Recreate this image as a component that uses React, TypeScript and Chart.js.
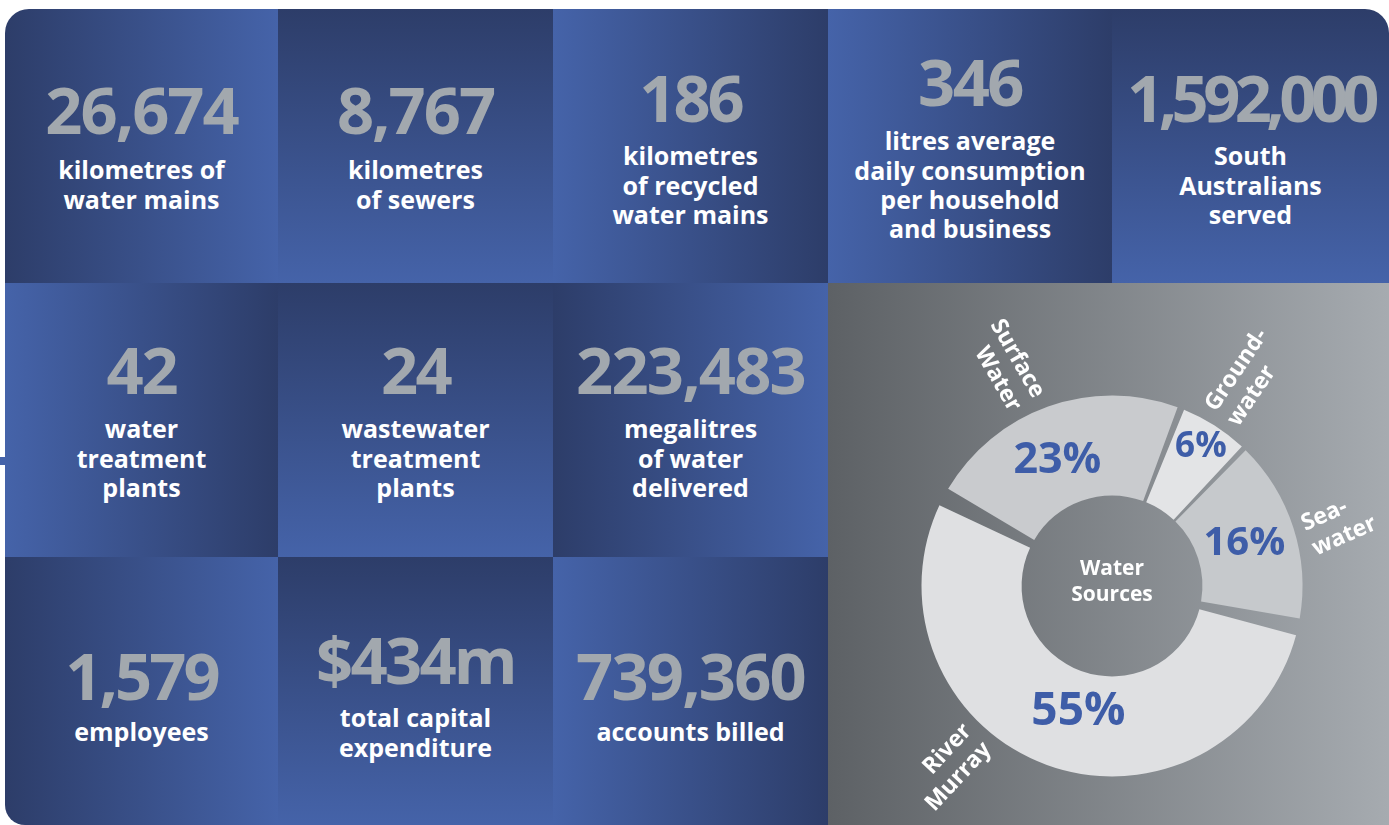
import React, { useEffect, useRef } from "react";
import { Chart, registerables } from "chart.js";

Chart.register(...registerables);

// ---------- data ----------
const statValues = ["26,674", "8,767", "186", "346", "1,592,000", "42", "24", "223,483", "1,579", "$434m", "739,360"];
const statLabels = [
  ["kilometres of", "water mains"],
  ["kilometres", "of sewers"],
  ["kilometres", "of recycled", "water mains"],
  ["litres average", "daily consumption", "per household", "and business"],
  ["South", "Australians", "served"],
  ["water", "treatment", "plants"],
  ["wastewater", "treatment", "plants"],
  ["megalitres", "of water", "delivered"],
  ["employees"],
  ["total capital", "expenditure"],
  ["accounts billed"],
];
const sourceNames = [["Surface", "Water"], ["Ground-", "water"], ["Sea-", "water"], ["River", "Murray"]];
const sourceShares = [23, 6, 16, 55];
const centerTitle = ["Water", "Sources"];

// ---------- layout / style ----------
const COLS = [5, 278, 553, 828, 1112, 1389];
const ROWS = [9, 283, 557, 825];
const DARK = "#2d3d69";
const LIGHT = "#4563a9";
const tileCells = [[0, 0], [1, 0], [2, 0], [3, 0], [4, 0], [0, 1], [1, 1], [2, 1], [0, 2], [1, 2], [2, 2]];
const tileGrad = ["dlr", "dlb", "ldr", "ldr", "dlb", "ldr", "dlb", "dlr", "dlr", "dlb", "ldr"];
const numCenterY = [112, 112, 100, 84, 100, 372, 372, 372, 678, 662, 678];
const labelCenterY = [170, 170, 156, 141, 156, 429, 429, 429, 732, 718, 732];
const numTracking = [-2, -2, -3, -2.5, -5.6, -2.2, -2.7, -1.8, -2.9, -2.7, -1.8];
const NUM_SIZE = 65;
const LABEL_SIZE = 25;
const LABEL_LH = 29.3;

const segColors = ["#c9cbce", "#e3e4e6", "#c6c9cc", "#dfe0e2"];
const pctLayout = [
  { depth: 0.465, shift: -4, size: 43 },
  { depth: 0.75, shift: 0, size: 35 },
  { depth: 0.49, shift: 0, size: 40 },
  { depth: 0.4, shift: -5, size: 46 },
];
const nameLayout = [
  { shift: -5.3, tilt: -5 },
  { shift: 0.3, tilt: 1 },
  { shift: 3.9, tilt: -10 },
  { shift: 21.8, tilt: 1 },
];

const FONT = '"Open Sans", "Noto Sans", sans-serif';

function gradientFor(kind: string) {
  if (kind === "dlr") return `linear-gradient(to right, ${DARK}, ${LIGHT})`;
  if (kind === "ldr") return `linear-gradient(to right, ${LIGHT}, ${DARK})`;
  return `linear-gradient(to bottom, ${DARK}, ${LIGHT})`;
}

const labelPlugin = {
  id: "sourceLabels",
  afterDatasetsDraw(chart: any) {
    const ctx = chart.ctx as CanvasRenderingContext2D;
    const arcs = chart.getDatasetMeta(0).data;
    const spacingHalf = 5;
    let cx = 0, cy = 0;
    arcs.forEach((arc: any, i: number) => {
      const p = arc.getProps(["x", "y", "startAngle", "endAngle", "innerRadius", "outerRadius"], true);
      cx = p.x; cy = p.y;
      const inner = p.innerRadius + spacingHalf;
      const outer = p.outerRadius + spacingHalf;
      const mid = (p.startAngle + p.endAngle) / 2;
      // percentage
      const pl = pctLayout[i];
      const pa = mid + (pl.shift * Math.PI) / 180;
      const pr = inner + pl.depth * (outer - inner);
      ctx.save();
      ctx.fillStyle = "#3e5da8";
      ctx.font = `bold ${pl.size}px ${FONT}`;
      ctx.textAlign = "center";
      ctx.textBaseline = "middle";
      ctx.fillText(sourceShares[i] + "%", p.x + Math.cos(pa) * pr, p.y + Math.sin(pa) * pr);
      ctx.restore();
      // name
      const nl = nameLayout[i];
      const a = mid + (nl.shift * Math.PI) / 180;
      const nr = outer + 12;
      const ax = p.x + Math.cos(a) * nr;
      const ay = p.y + Math.sin(a) * nr;
      const outward = Math.cos(a) >= 0;
      ctx.save();
      ctx.translate(ax, ay);
      ctx.rotate((outward ? a : a + Math.PI) + (nl.tilt * Math.PI) / 180);
      ctx.fillStyle = "#ffffff";
      ctx.font = `bold 23px ${FONT}`;
      ctx.textAlign = outward ? "left" : "right";
      ctx.textBaseline = "middle";
      const lines = sourceNames[i];
      const lh = 27;
      lines.forEach((ln, k) => {
        ctx.fillText(ln, 0, (k - (lines.length - 1) / 2) * lh);
      });
      ctx.restore();
    });
    ctx.save();
    ctx.fillStyle = "#ffffff";
    ctx.font = `bold 21px ${FONT}`;
    ctx.textAlign = "center";
    ctx.textBaseline = "middle";
    ctx.fillText(centerTitle[0], cx, cy - 17);
    ctx.fillText(centerTitle[1], cx, cy + 9);
    ctx.restore();
  },
};

export default function App() {
  const canvasRef = useRef<HTMLCanvasElement>(null);

  useEffect(() => {
    const chart = new Chart(canvasRef.current as HTMLCanvasElement, {
      type: "doughnut",
      data: {
        labels: sourceNames.map((n) => n.join(" ")),
        datasets: [
          {
            data: sourceShares,
            backgroundColor: segColors,
            borderWidth: 0,
            spacing: 11,
          } as any,
        ],
      },
      options: {
        animation: false,
        responsive: false,
        rotation: -61,
        cutout: "45.9%",
        radius: 185,
        events: [],
        layout: { padding: { left: 57, right: 50, top: 64, bottom: 0 } },
        plugins: { legend: { display: false }, tooltip: { enabled: false } },
      } as any,
      plugins: [labelPlugin],
    });
    return () => chart.destroy();
  }, []);

  return (
    <div
      style={{
        position: "fixed",
        left: 0,
        top: 0,
        width: 1389,
        height: 825,
        background: "#ffffff",
        overflow: "hidden",
        fontFamily: FONT,
      }}
    >
      {tileCells.map(([c, r], i) => {
        const left = COLS[c];
        const top = ROWS[r];
        const w = COLS[c + 1] - left;
        const h = ROWS[r + 1] - top;
        const radius =
          i === 0 ? "24px 0 0 0" : i === 4 ? "0 24px 0 0" : i === 8 ? "0 0 0 20px" : "0";
        return (
          <div
            key={i}
            style={{
              position: "absolute",
              left,
              top,
              width: w,
              height: h,
              background: gradientFor(tileGrad[i]),
              borderRadius: radius,
            }}
          >
            <div
              style={{
                position: "absolute",
                left: -20,
                width: w + 40,
                top: numCenterY[i] - top - NUM_SIZE * 0.531,
                height: NUM_SIZE,
                lineHeight: `${NUM_SIZE}px`,
                fontSize: NUM_SIZE,
                fontWeight: 700,
                color: "#a2a8ae",
                textAlign: "center",
                letterSpacing: numTracking[i],
                whiteSpace: "nowrap",
              }}
            >
              {statValues[i]}
            </div>
            {statLabels[i].map((ln, k) => (
              <div
                key={k}
                style={{
                  position: "absolute",
                  left: -20,
                  width: w + 40,
                  top: labelCenterY[i] - top + k * LABEL_LH - LABEL_LH / 2,
                  height: LABEL_LH,
                  lineHeight: `${LABEL_LH}px`,
                  fontSize: LABEL_SIZE,
                  fontWeight: 700,
                  color: "#ffffff",
                  textAlign: "center",
                  whiteSpace: "nowrap",
                }}
              >
                {ln}
              </div>
            ))}
          </div>
        );
      })}
      <div
        style={{
          position: "absolute",
          left: COLS[3],
          top: ROWS[1],
          width: COLS[5] - COLS[3],
          height: ROWS[3] - ROWS[1],
          background: "linear-gradient(to right, #5d6165, #a6abb0)",
        }}
      >
        <canvas ref={canvasRef} width={561} height={542} style={{ display: "block" }} />
      </div>
      <div style={{ position: "absolute", left: 0, top: 457, width: 5, height: 8, background: LIGHT }} />
    </div>
  );
}
